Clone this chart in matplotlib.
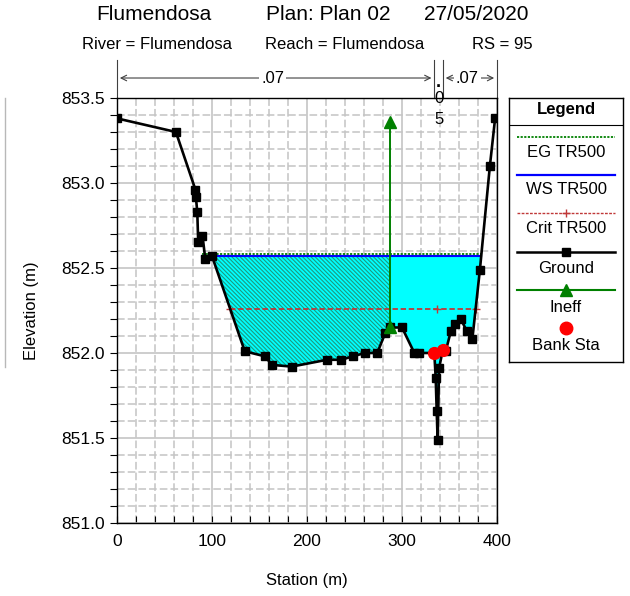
import matplotlib.pyplot as plt
import numpy as np
from matplotlib.ticker import MultipleLocator
from matplotlib.lines import Line2D
from matplotlib.patches import Rectangle

plt.rcParams['font.family'] = ['Liberation Sans', 'DejaVu Sans']
plt.rcParams['hatch.linewidth'] = 0.8

# ground profile (station, elevation)
station = [0, 62, 82.6, 83, 84.5, 85.5, 90, 93, 100, 134.5, 156, 163, 184, 221,
           236, 248, 261, 274, 282.5, 287, 300, 313, 318, 334, 335.5, 336.5,
           337.5, 339, 343, 346, 351.5, 356, 362, 368, 374, 382, 392.5, 398]
elev = [853.38, 853.30, 852.96, 852.92, 852.83, 852.65, 852.69, 852.55, 852.57,
        852.01, 851.98, 851.93, 851.92, 851.96, 851.96, 851.98, 852.00, 852.00,
        852.12, 852.15, 852.15, 852.00, 852.00, 852.00, 851.85, 851.66, 851.49,
        851.91, 852.02, 852.01, 852.13, 852.17, 852.20, 852.13, 852.08, 852.49,
        853.10, 853.38]

ws_elev = 852.57
ws_sta = [90, 383.4]
eg_elev = 852.582
crit_elev = 852.257
crit_sta = [119.3, 337, 377.5]

ineff_sta = 287
ineff_elev = [852.15, 853.36]

bank_sta = [334, 343]
bank_elev = [852.00, 852.02]

# manning's n regions
n_bounds = [0, 334, 343, 400]
n_vals = ['.07', '.05', '.07']

fig = plt.figure(figsize=(6.3, 5.96), dpi=100)
ax = fig.add_axes([0.1857, 0.1225, 0.6032, 0.7131])

sta = np.array(station)
el = np.array(elev)
wet = el < ws_elev
ax.fill_between(sta, el, ws_elev, where=wet, interpolate=True,
                facecolor='#00ffff', linewidth=0, zorder=2)
# ineffective flow area, hatched and clipped at the ineff station
hatched = ax.fill_between(sta, el, ws_elev, where=wet, interpolate=True,
                          facecolor='none', edgecolor='#1a9a80',
                          hatch='\\' * 8, linewidth=0, zorder=2.1)
clip = Rectangle((0, 851.0), ineff_sta, 3.0, transform=ax.transData)
hatched.set_clip_path(clip)

ax.plot([ws_sta[0], ws_sta[1]], [eg_elev, eg_elev], color='#008000', lw=1.3,
        ls=(0, (1.2, 0.8)), zorder=3)
ax.plot(ws_sta, [ws_elev, ws_elev], color='#0000ff', lw=1.5, zorder=3)
ax.plot(crit_sta, [crit_elev] * len(crit_sta), color='#c03838', lw=1.3,
        ls=(0, (3, 1.5)), marker='+', markersize=6, markeredgewidth=1, zorder=3)

ax.plot(station, elev, color='black', lw=1.9, marker='s', markersize=5.5, zorder=4)

ax.plot([ineff_sta, ineff_sta], ineff_elev, color='#008000', lw=1.4,
        marker='^', markersize=8, zorder=5)
ax.plot(bank_sta, bank_elev, ls='none', marker='o', color='#ff0000',
        markersize=8.5, zorder=6)

ax.set_xlim(0, 400)
ax.set_ylim(851.0, 853.5)
ax.xaxis.set_major_locator(MultipleLocator(100))
ax.xaxis.set_minor_locator(MultipleLocator(20))
ax.yaxis.set_major_locator(MultipleLocator(0.5))
ax.yaxis.set_minor_locator(MultipleLocator(0.1))
ax.yaxis.set_major_formatter(plt.FormatStrFormatter('%.1f'))

ax.grid(True, which='major', color='#c0c0c0', lw=1.1, ls='-', zorder=0)
ax.grid(True, which='minor', color='#c4c4c4', lw=1.1, ls=(0, (5, 2)), zorder=0)
ax.set_axisbelow(True)

ax.tick_params(axis='y', which='both', direction='out', length=5, labelsize=12.5,
               width=0.8)
ax.tick_params(axis='x', which='both', direction='in', length=5, labelsize=12.5,
               width=0.8, pad=8)
for s in ax.spines.values():
    s.set_linewidth(1.0)

ax.set_xlabel('Station (m)', fontsize=12, labelpad=17)
ax.set_ylabel('Elevation (m)', fontsize=12, labelpad=16)

# n value brackets above the plot
trans = ax.get_xaxis_transform()
for b in n_bounds:
    ax.plot([b, b], [1.0, 1.09], color='#404040', lw=0.8, transform=trans,
            clip_on=False)
arr_y = 1.047
for i, v in enumerate(n_vals):
    x0, x1 = n_bounds[i], n_bounds[i + 1]
    if x1 - x0 < 20:
        xm = (x0 + x1) / 2
        ax.text(xm, 1.036, '.', ha='center', va='center', fontsize=13,
                fontweight='bold', transform=trans)
        ax.text(xm, 0.998, v[1], ha='center', va='center', fontsize=12,
                transform=trans)
        ax.text(xm, 0.95, v[2], ha='center', va='center', fontsize=12,
                transform=trans)
        continue
    ax.annotate('', xy=(x0 + 3, arr_y), xytext=(x1 - 3, arr_y), xycoords=trans,
                textcoords=trans,
                arrowprops=dict(arrowstyle='<->', color='#404040', lw=0.8,
                                shrinkA=0, shrinkB=0, mutation_scale=10))
    ax.text((x0 + x1) / 2 - 3, arr_y, v, ha='center', va='center', fontsize=12,
            transform=trans,
            bbox=dict(facecolor='white', edgecolor='none', pad=1.5))

# titles
fig.text(96 / 630, 0.975, 'Flumendosa', fontsize=15, va='center')
fig.text(266 / 630, 0.975, 'Plan: Plan 02', fontsize=15, va='center')
fig.text(424 / 630, 0.975, '27/05/2020', fontsize=15, va='center')
fig.text(82 / 630, 0.9245, 'River = Flumendosa', fontsize=12, va='center')
fig.text(265 / 630, 0.9245, 'Reach = Flumendosa', fontsize=12, va='center')
fig.text(472 / 630, 0.9245, 'RS = 95', fontsize=12, va='center')

# legend panel
lg = fig.add_axes([509 / 630, 0.3926, 114 / 630, 0.443])
lg.set_xlim(0, 1)
lg.set_ylim(0, 1)
lg.set_xticks([])
lg.set_yticks([])
for s in lg.spines.values():
    s.set_linewidth(1.0)
lg.text(0.5, 0.955, 'Legend', ha='center', va='center', fontsize=12,
        fontweight='bold')
lg.add_line(Line2D([0, 1], [0.898, 0.898], color='black', lw=0.8))
lx = [0.07, 0.93]
lg.plot(lx, [0.852, 0.852], color='#008000', lw=1.3, ls=(0, (1.2, 0.8)))
lg.text(0.5, 0.792, 'EG TR500', ha='center', va='center', fontsize=12)
lg.plot(lx, [0.708, 0.708], color='#0000ff', lw=1.6)
lg.text(0.5, 0.652, 'WS TR500', ha='center', va='center', fontsize=12)
lg.plot(lx, [0.564, 0.564], color='#c03838', lw=1.0, ls=(0, (2, 1)))
lg.plot([0.5], [0.564], color='#c03838', marker='+', markersize=6)
lg.text(0.5, 0.504, 'Crit TR500', ha='center', va='center', fontsize=12)
lg.plot(lx, [0.417, 0.417], color='black', lw=1.8)
lg.plot([0.5], [0.417], color='black', marker='s', markersize=6)
lg.text(0.5, 0.356, 'Ground', ha='center', va='center', fontsize=12)
lg.plot(lx, [0.273, 0.273], color='#008000', lw=1.5)
lg.plot([0.5], [0.273], color='#008000', marker='^', markersize=8)
lg.text(0.5, 0.208, 'Ineff', ha='center', va='center', fontsize=12)
lg.plot([0.5], [0.129], color='#ff0000', marker='o', markersize=9)
lg.text(0.5, 0.064, 'Bank Sta', ha='center', va='center', fontsize=12)

# faint window edge on the far left
fig.add_artist(Line2D([5 / 630, 5 / 630], [0.384, 0.8356], color='#b8b8b8', lw=1.0))

fig.savefig('out.png', dpi=100)
